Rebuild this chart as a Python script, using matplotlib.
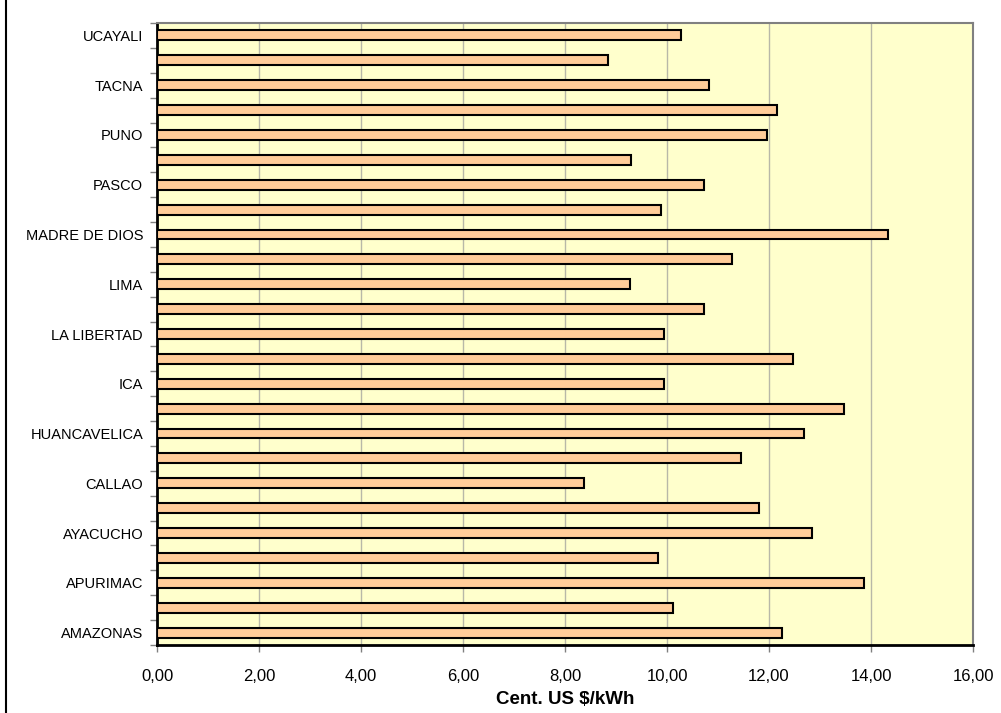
import matplotlib
matplotlib.use('Agg')
import matplotlib.pyplot as plt
from matplotlib import ticker
from matplotlib.lines import Line2D

plt.rcParams['font.family'] = ['Liberation Sans', 'DejaVu Sans']

regions = ['AMAZONAS', 'ANCASH', 'APURIMAC', 'AREQUIPA', 'AYACUCHO', 'CAJAMARCA',
           'CALLAO', 'CUSCO', 'HUANCAVELICA', 'HUANUCO', 'ICA', 'JUNIN',
           'LA LIBERTAD', 'LAMBAYEQUE', 'LIMA', 'LORETO', 'MADRE DE DIOS',
           'MOQUEGUA', 'PASCO', 'PIURA', 'PUNO', 'SAN MARTIN', 'TACNA',
           'TUMBES', 'UCAYALI']
tariff = [12.26, 10.12, 13.86, 9.83, 12.84, 11.80,
          8.37, 11.45, 12.68, 13.48, 9.95, 12.47,
          9.95, 10.72, 9.27, 11.27, 14.33,
          9.88, 10.72, 9.30, 11.97, 12.15, 10.83,
          8.85, 10.28]
xticks = [0, 2, 4, 6, 8, 10, 12, 14, 16]

fig = plt.figure(figsize=(10.01, 7.13), dpi=100)
W, H = 1001, 713
ax = fig.add_axes([157 / W, (H - 645) / H, (973 - 157) / W, (645 - 23) / H])
ax.set_facecolor('#FFFFCC')

pos = list(range(len(regions)))
ax.barh(pos, tariff, height=0.4, color='#FFCC99', edgecolor='black',
        linewidth=1.5, zorder=3)

ax.set_xlim(0, 16)
ax.set_ylim(-0.5, len(regions) - 0.5)

ax.set_xticks(xticks)
ax.xaxis.set_major_formatter(ticker.FuncFormatter(lambda v, p: f'{v:.2f}'.replace('.', ',')))
ax.tick_params(axis='x', length=5, width=1, color='#808080', labelsize=12, pad=12)
ax.grid(axis='x', color='#b8b8a8', linewidth=1, zorder=1)

# category boundaries as major ticks, labels on every other category
ax.set_yticks([i - 0.5 for i in range(len(regions) + 1)])
ax.set_yticklabels([])
ax.set_yticks(pos[::2], minor=True)
ax.set_yticklabels(regions[::2], minor=True)
ax.tick_params(axis='y', which='major', length=5, width=1, color='#808080')
ax.tick_params(axis='y', which='minor', length=0, labelsize=10.5, pad=10)

ax.spines['left'].set_color('black')
ax.spines['left'].set_linewidth(2)
ax.spines['bottom'].set_color('black')
ax.spines['bottom'].set_linewidth(2)
ax.spines['top'].set_color('#808080')
ax.spines['top'].set_linewidth(1.5)
ax.spines['right'].set_color('#808080')
ax.spines['right'].set_linewidth(1.5)

ax.set_xlabel('Cent. US $/kWh', fontsize=13.5, fontweight='bold', labelpad=5)

# left border of the chart area
fig.add_artist(Line2D([6 / W, 6 / W], [0, 1], color='black', linewidth=1.5))

plt.savefig('out.png', dpi=100)
